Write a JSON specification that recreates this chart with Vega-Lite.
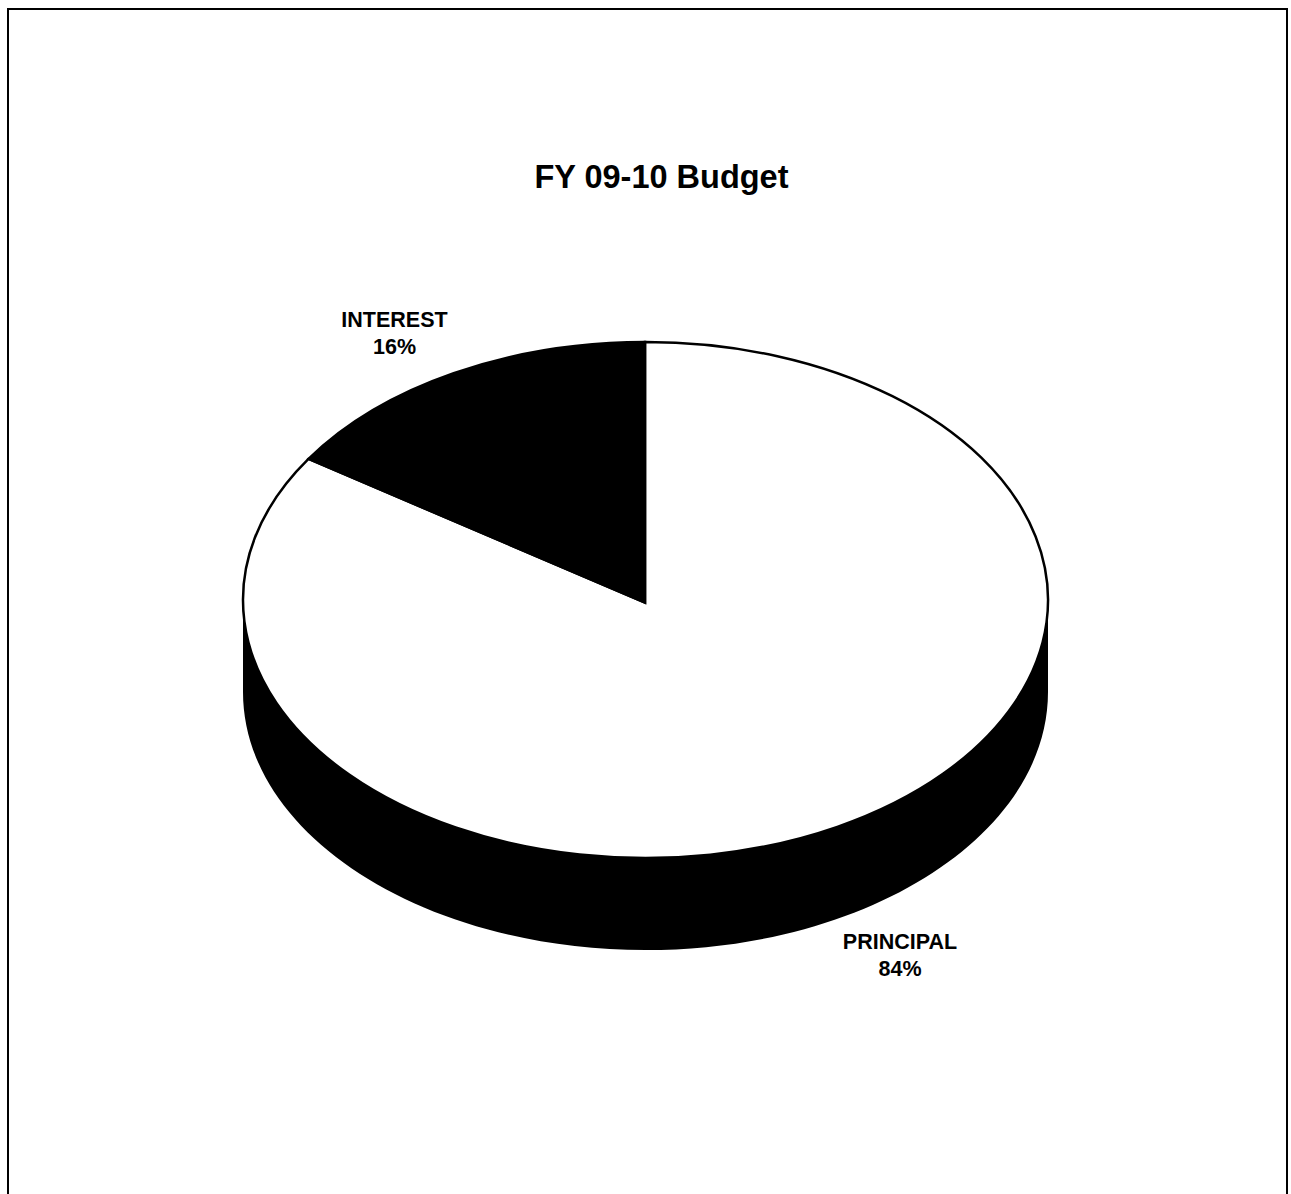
{
"$schema":"https://vega.github.io/schema/vega-lite/v6.json",
"autosize":"none",
"padding":{"left":8,"top":9,"right":4,"bottom":0},
"width":1279,
"height":1195,
"background":"#ffffff",
"view":{"stroke":"#000000","strokeWidth":2,"fill":"#ffffff"},
"title":{"text":"FY 09-10 Budget","font":"Liberation Sans","fontSize":32.5,"fontWeight":"bold","color":"#000000","anchor":"middle","dx":14,"offset":-185},
"data":{"values":[
{"category":"PRINCIPAL","share":84,"label":"PRINCIPAL\n84%"},
{"category":"INTEREST","share":16,"label":"INTEREST\n16%"}
]},
"layer":[
{"transform":[{"filter":"datum.category === 'PRINCIPAL'"}],
 "mark":{"type":"point","filled":true,"size":4,"opacity":1,"color":"#000000","shape":"M-404.5,-6.5 A402.5,258 0 0 0 400.5,-6.5 L400.5,85.5 A402.5,258 0 0 1 -404.5,85.5 Z"},
 "encoding":{}},
{"mark":{"type":"point","filled":true,"size":4,"opacity":1,"stroke":"#000000","strokeWidth":2.5},
 "encoding":{
  "shape":{"field":"category","type":"nominal","legend":null,"scale":{"domain":["PRINCIPAL","INTEREST"],"range":["M-2.5,-4 L-2.5,-264.5 A402.5,258 0 1 1 -339,-147.57 Z","M-2.5,-4 L-339,-147.57 A402.5,258 0 0 1 -2.5,-264.5 Z"]}},
  "fill":{"field":"category","type":"nominal","legend":null,"scale":{"domain":["PRINCIPAL","INTEREST"],"range":["#ffffff","#000000"]}}
 }},
{"transform":[{"filter":"datum.category === 'INTEREST'"}],
 "mark":{"type":"text","font":"Liberation Sans","fontSize":21.5,"fontWeight":"bold","lineBreak":"\n","lineHeight":27,"align":"center","baseline":"middle","dx":-253,"dy":-285.5,"color":"#000000"},
 "encoding":{"text":{"field":"label","type":"nominal"}}},
{"transform":[{"filter":"datum.category === 'PRINCIPAL'"}],
 "mark":{"type":"text","font":"Liberation Sans","fontSize":21.5,"fontWeight":"bold","lineBreak":"\n","lineHeight":27,"align":"center","baseline":"middle","dx":252.5,"dy":336,"color":"#000000"},
 "encoding":{"text":{"field":"label","type":"nominal"}}}
]
}
